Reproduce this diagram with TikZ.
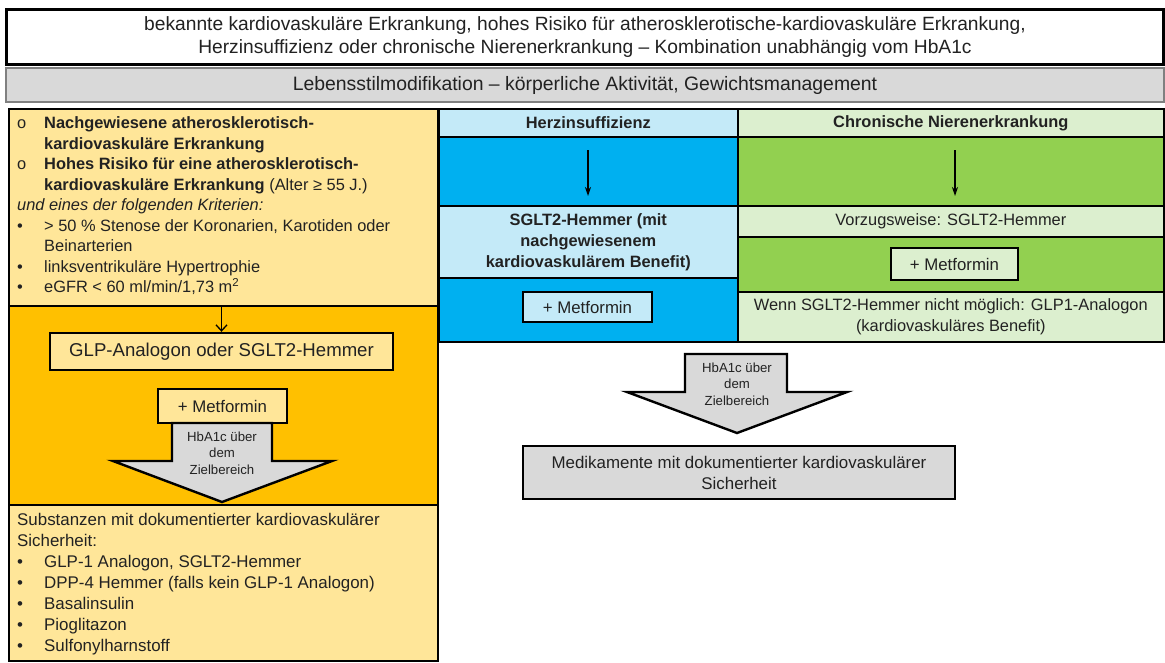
\documentclass[tikz,border=0pt]{standalone}
\usepackage{fontspec}
\setmainfont{Liberation Sans}
\usetikzlibrary{arrows.meta}
\definecolor{lyellow}{HTML}{FFE699}
\definecolor{gold}{HTML}{FFC000}
\definecolor{lblue}{HTML}{C4EAF8}
\definecolor{cblue}{HTML}{00B0F0}
\definecolor{lgreen}{HTML}{DCEFCF}
\definecolor{cgreen}{HTML}{92D050}
\definecolor{lgray}{HTML}{D9D9D9}
\definecolor{midgray}{HTML}{808080}
\definecolor{ink}{HTML}{222222}
\begin{document}
\begin{tikzpicture}[x=1pt,y=-1pt,
  every node/.style={text=ink},
  sec/.style={draw=black, line width=1.6pt, inner sep=0pt, anchor=north west, align=center},
  box/.style={draw=black, line width=2.4pt, inner sep=0pt, align=center},
  blk/.style={draw=black, line width=2.4pt, fill=lgray, line join=miter},
  arr/.style={-{Stealth[length=9pt,width=6pt]}, line width=1.3pt},
  arrv/.style={-{Straight Barb[length=6pt,width=11pt]}, line width=1.3pt},
  colfont/.style={font=\fontsize{16.4}{20.5}\selectfont},
  headfont/.style={font=\fontsize{16.4}{20}\selectfont},
  rfont/.style={font=\fontsize{16.4}{21}\selectfont},
  metfont/.style={font=\fontsize{16.8}{20}\selectfont},
  hbafont/.style={font=\fontsize{13.2}{16.5}\selectfont}
]
\useasboundingbox (0,0) rectangle (1165,662);

% title and lifestyle banners
\node[draw=black, line width=3pt, fill=white, anchor=north west, minimum width=1157pt, minimum height=55pt, inner sep=0pt] (title) at (5,8) {};
\node[align=center, font=\fontsize{19.2}{23}\selectfont] (titletext) at (title.center)
  {bekannte kardiovaskuläre Erkrankung, hohes Risiko für atherosklerotische-kardiovaskuläre Erkrankung,\\
   Herzinsuffizienz oder chronische Nierenerkrankung – Kombination unabhängig vom HbA1c};
\node[draw=midgray, line width=2pt, fill=lgray, anchor=north west, minimum width=1158pt, minimum height=34pt, inner sep=0pt,
  font=\fontsize{19.4}{23}\selectfont] (life) at (5,67)
  {Lebensstilmodifikation – körperliche Aktivität, Gewichtsmanagement};

% left column: atherosclerotic disease
\node[sec, fill=lyellow, minimum width=429pt, minimum height=197pt] (ltop) at (8,108) {};
\node[sec, fill=gold, minimum width=429pt, minimum height=199pt] (lmid) at (8,305) {};
\node[sec, fill=lyellow, minimum width=429pt, minimum height=156pt] (lbot) at (8,504) {};

\node[anchor=north west, inner sep=0pt, align=left, colfont] (crit) at (17,114) {%
  \begin{tabular}{@{}p{27pt}@{}l@{}}
  o & \textbf{Nachgewiesene atherosklerotisch-}\\
    & \textbf{kardiovaskuläre Erkrankung}\\
  o & \textbf{Hohes Risiko für eine atherosklerotisch-}\\
    & \textbf{kardiovaskuläre Erkrankung} (Alter ≥ 55 J.)\\
  \multicolumn{2}{@{}l@{}}{\itshape und eines der folgenden Kriterien:}\\
  • & > 50 \% Stenose der Koronarien, Karotiden oder\\
    & Beinarterien\\
  • & linksventrikuläre Hypertrophie\\
  • & eGFR < 60 ml/min/1,73 m\textsuperscript{2}
  \end{tabular}};

\node[box, fill=lyellow, minimum width=343pt, minimum height=37pt, font=\fontsize{18.6}{23}\selectfont] (glp) at (221.5,351.5)
  {GLP-Analogon oder SGLT2-Hemmer};
\node[box, fill=lyellow, minimum width=129pt, minimum height=34pt, metfont] (lmet) at (222.5,406)
  {+ Metformin};
\draw[arrv] (ltop.south -| glp.north) -- (glp.north);

% block arrow below the metformin box
\draw[blk] (172,423) -- (272,423) -- (272,461) -- (332,461) -- (222,502) -- (113,461) -- (172,461) -- cycle;
\node[align=center, hbafont] (lhba) at (222,453) {HbA1c über\\dem\\Zielbereich};

\node[anchor=north west, inner sep=0pt, align=left, font=\fontsize{16.9}{21}\selectfont] (safe) at (17,511) {%
  \begin{tabular}{@{}p{27pt}@{}l@{}}
  \multicolumn{2}{@{}l@{}}{Substanzen mit dokumentierter kardiovaskulärer}\\
  \multicolumn{2}{@{}l@{}}{Sicherheit:}\\
  • & GLP-1 Analogon, SGLT2-Hemmer\\
  • & DPP-4 Hemmer (falls kein GLP-1 Analogon)\\
  • & Basalinsulin\\
  • & Pioglitazon\\
  • & Sulfonylharnstoff
  \end{tabular}};

% middle column: heart failure
\node[sec, fill=lblue, minimum width=299pt, minimum height=28pt, headfont] (mhead) at (438,108) {\textbf{Herzinsuffizienz}};
\node[sec, fill=cblue, minimum width=299pt, minimum height=69pt] (marrow) at (438,136) {};
\node[sec, fill=lblue, minimum width=299pt, minimum height=72pt, font=\fontsize{16.4}{21}\selectfont] (msglt) at (438,205)
  {\textbf{SGLT2-Hemmer (mit}\\\textbf{nachgewiesenem}\\\textbf{kardiovaskulärem Benefit)}};
\node[sec, fill=cblue, minimum width=299pt, minimum height=64pt] (mmet) at (438,277) {};
\node[box, fill=lblue, minimum width=129pt, minimum height=30pt, metfont] (mmetbox) at (587.5,307) {+ Metformin};
\coordinate (ma1) at (588,150);
\coordinate (ma2) at (588,196);
\draw[arr] (ma1) -- (ma2);

% right column: chronic kidney disease
\node[sec, fill=lgreen, minimum width=426pt, minimum height=28pt, headfont] (rhead) at (737,108) {\textbf{Chronische Nierenerkrankung}};
\node[sec, fill=cgreen, minimum width=426pt, minimum height=69pt] (rarrow) at (737,136) {};
\node[sec, fill=lgreen, minimum width=426pt, minimum height=31pt, rfont] (rpref) at (737,205) {Vorzugsweise: SGLT2-Hemmer};
\node[sec, fill=cgreen, minimum width=426pt, minimum height=55pt] (rmet) at (737,236) {};
\node[sec, fill=lgreen, minimum width=426pt, minimum height=50pt, rfont] (rglp) at (737,291)
  {Wenn SGLT2-Hemmer nicht möglich: GLP1-Analogon\\(kardiovaskuläres Benefit)};
\node[box, fill=lgreen, minimum width=127pt, minimum height=32pt, metfont] (rmetbox) at (954.5,264) {+ Metformin};
\coordinate (ra1) at (955,150);
\coordinate (ra2) at (955,196);
\draw[arr] (ra1) -- (ra2);

% shared block arrow and safety box
\draw[blk] (685,354) -- (787,354) -- (787,392) -- (847,392) -- (737,433) -- (627,392) -- (685,392) -- cycle;
\node[align=center, hbafont] (mhba) at (737,384) {HbA1c über\\dem\\Zielbereich};
\node[box, fill=lgray, minimum width=432pt, minimum height=53pt, font=\fontsize{16.9}{21}\selectfont] (medi) at (739,472.5)
  {Medikamente mit dokumentierter kardiovaskulärer\\Sicherheit};
\end{tikzpicture}
\end{document}
